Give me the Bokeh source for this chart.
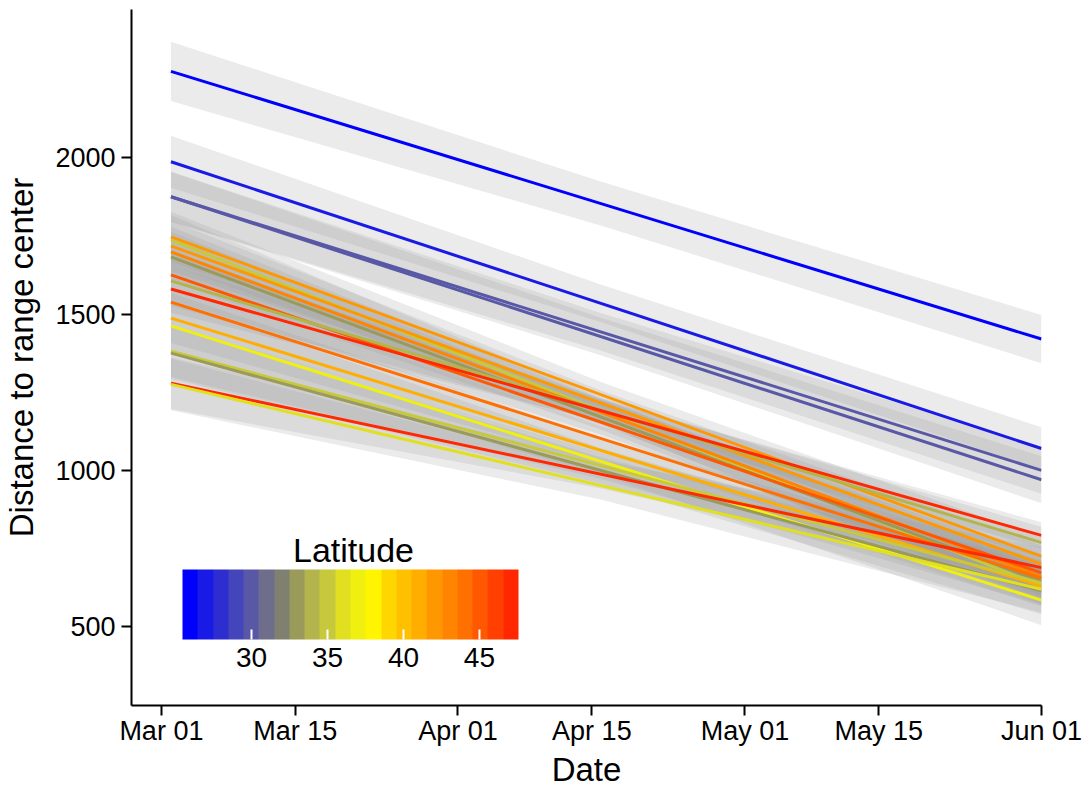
import pandas as pd
from bokeh.plotting import figure
from bokeh.models import (ColumnDataSource, LinearColorMapper, ColorBar, FixedTicker,
                          DatetimeTickFormatter, Range1d, Label)
from bokeh.transform import linear_cmap
from bokeh.embed import file_html
from bokeh.resources import INLINE

# ---------------- data ----------------
start_date = "2019-03-02"
mid_date = "2019-04-16"
end_date = "2019-06-01"

latitude   = [26.0, 27.0, 30.0, 30.0, 42.5, 35.0, 42.0, 43.5, 32.5, 45.5, 34.0, 47.5, 44.5, 41.0, 37.0, 35.0, 32.5, 47.0, 36.5]
dist_start = [2276, 1987, 1875, 1875, 1747, 1737, 1718, 1699, 1683, 1625, 1606, 1580, 1538, 1487, 1462, 1381, 1375, 1279, 1275]
dist_end   = [1420, 1070, 1000,  970,  725,  630,  700,  660,  645,  672,  769,  792,  655,  630,  585,  640,  615,  689,  620]
ci_start   = [  95,   83,   80,   80,   80,   80,   80,   80,   80,   80,   80,   75,   80,   80,   82,   82,   82,   83,   83]
ci_mid     = [  70,   60,   60,   60,   40,   40,   40,   40,   40,   40,   38,   35,   40,   40,   42,   42,   42,   45,   45]
ci_end     = [  77,   68,   75,   75,   60,   60,   60,   60,   60,   60,   50,   42,   60,   65,   80,   70,   75,   65,   75]

lat_range = (25.46, 47.57)
lat_palette = ["#0000FF", "#1A1AE6", "#2E2ED0", "#4444BB", "#5858A6", "#6E6E8C",
               "#808070", "#9A9A5A", "#B4B44C", "#C8C83C", "#E0E020", "#F0F010",
               "#FFF500", "#FFD700", "#FFC000", "#FFAE00", "#FF9800", "#FF8500",
               "#FF7000", "#FF5800", "#FF4000", "#FF2800"]
legend_ticks = [30, 35, 40, 45]

x_tick_dates = ["2019-03-01", "2019-03-15", "2019-04-01", "2019-04-15",
                "2019-05-01", "2019-05-15", "2019-06-01"]
y_ticks = [500, 1000, 1500, 2000]

# ---------------- helpers ----------------
def ms(d):
    return pd.Timestamp(d).value / 1e6

x0, xm, x1 = ms(start_date), ms(mid_date), ms(end_date)
frac = (xm - x0) / (x1 - x0)

line_xs, line_ys, rib_xs, rib_ys = [], [], [], []
for s, e, cs, cm, ce in zip(dist_start, dist_end, ci_start, ci_mid, ci_end):
    m = s + (e - s) * frac
    line_xs.append([x0, x1])
    line_ys.append([s, e])
    rib_xs.append([x0, xm, x1, x1, xm, x0])
    rib_ys.append([s - cs, m - cm, e - ce, e + ce, m + cm, s + cs])

lines = ColumnDataSource(dict(xs=line_xs, ys=line_ys, lat=latitude))
ribbons = ColumnDataSource(dict(xs=rib_xs, ys=rib_ys))

FONT = "Liberation Sans"

p = figure(width=1088, height=792, x_axis_type="datetime",
           output_backend="svg", toolbar_location=None,
           x_range=Range1d(ms("2019-02-25 21:00"), ms("2019-06-01")),
           y_range=Range1d(248, 2474),
           min_border_left=130, min_border_right=47,
           min_border_top=9, min_border_bottom=87)
p.outline_line_color = None
p.grid.visible = False
p.background_fill_color = "white"

p.patches("xs", "ys", source=ribbons, fill_color="#999999", fill_alpha=0.2, line_color=None)
p.multi_line("xs", "ys", source=lines, line_width=3,
             line_color=linear_cmap("lat", lat_palette, lat_range[0], lat_range[1]))

# axes
p.xaxis.ticker = FixedTicker(ticks=[ms(d) for d in x_tick_dates])
fmt = "%b %d"
p.xaxis.formatter = DatetimeTickFormatter(milliseconds=fmt, seconds=fmt, minsec=fmt, minutes=fmt,
                                          hourmin=fmt, hours=fmt, days=fmt, months=fmt, years=fmt)
p.yaxis.ticker = FixedTicker(ticks=y_ticks)
p.xaxis.axis_label = "Date"
p.yaxis.axis_label = "Distance to range center"
for ax in (p.xaxis, p.yaxis):
    ax.axis_line_width = 2
    ax.axis_line_color = "black"
    ax.major_tick_line_width = 2
    ax.major_tick_out = 10
    ax.major_tick_in = 0
    ax.minor_tick_line_color = None
    ax.major_label_text_font = FONT
    ax.major_label_text_font_size = "27px"
    ax.major_label_text_color = "black"
    ax.axis_label_text_font = FONT
    ax.axis_label_text_font_size = "33px"
    ax.axis_label_text_font_style = "normal"
    ax.axis_label_text_color = "black"
p.xaxis.major_label_standoff = 0
p.xaxis.axis_label_standoff = 2
p.yaxis.major_label_standoff = 6
p.yaxis.axis_label_standoff = 12

# legend colour bar
mapper = LinearColorMapper(palette=lat_palette, low=lat_range[0], high=lat_range[1])
cb = ColorBar(color_mapper=mapper, orientation="horizontal", width=336, height=70,
              location=(51, 36), ticker=FixedTicker(ticks=legend_ticks),
              major_label_text_font=FONT, major_label_text_font_size="28px",
              major_label_text_color="black",
              major_tick_line_color="white", major_tick_line_width=2,
              major_tick_in=10, major_tick_out=0, label_standoff=8,
              padding=0, margin=0, background_fill_alpha=0, border_line_color=None,
              bar_line_color=None)
p.add_layout(cb, "center")
p.add_layout(Label(x=222, y=156, x_units="screen", y_units="screen", text="Latitude",
                   text_font=FONT, text_font_size="34px", text_align="center",
                   text_baseline="alphabetic", text_color="black"))

open("out.html", "w").write(file_html(p, INLINE))
